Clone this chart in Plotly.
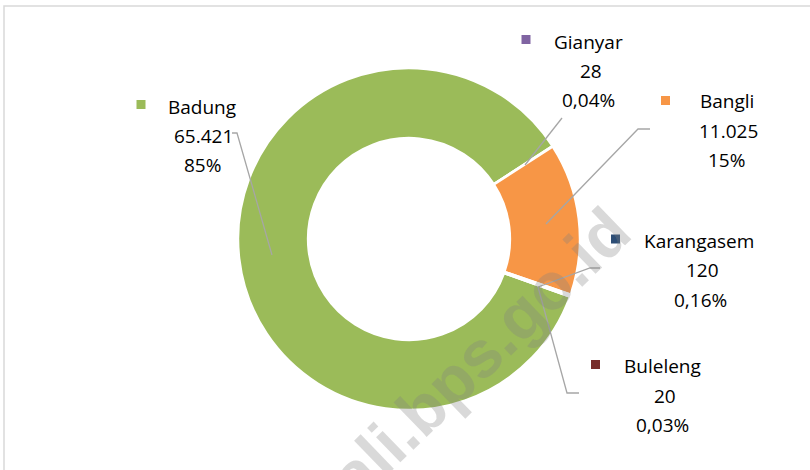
import plotly.graph_objects as go

# Data
regencies = ["Badung", "Gianyar", "Bangli", "Karangasem", "Buleleng"]
values = [65421, 28, 11025, 120, 20]
value_labels = ["65.421", "28", "11.025", "120", "20"]
pct_labels = ["85%", "0,04%", "15%", "0,16%", "0,03%"]
colors = ["#9BBB59", "#8064A2", "#F79646", "#2C4D75", "#772C2A"]

W, H = 810, 470
cx, cy, R = 409, 239, 171

def px(x):
    return x / W

def py(y):
    return 1 - y / H

fig = go.Figure()
fig.add_trace(go.Pie(
    labels=regencies, values=values, sort=False, direction="clockwise",
    rotation=109.7, hole=0.59, textinfo="none", hoverinfo="label+value+percent",
    marker=dict(colors=colors, line=dict(color="white", width=2.5)),
    domain=dict(x=[px(cx - R), px(cx + R)], y=[py(cy + R), py(cy - R)]),
    showlegend=False,
))

# label layout (pixel positions of the three text lines and the key square)
label_pos = {
    "Badung": dict(x=[202, 203, 202], y=[107, 136, 165], key=(141, 104.5)),
    "Gianyar": dict(x=[588, 591, 588], y=[42, 71, 100], key=(526, 39.5)),
    "Bangli": dict(x=[727, 728, 726], y=[101, 131, 160], key=(665.5, 100.5)),
    "Karangasem": dict(x=[699, 702, 700], y=[241, 270, 300], key=(615.5, 239)),
    "Buleleng": dict(x=[662, 665, 662], y=[366, 396, 425], key=(595.5, 364.5)),
}
leaders = {
    "Badung": [(232, 133), (237, 133), (272, 255)],
    "Gianyar": [(562, 118), (525, 165)],
    "Bangli": [(650, 129), (638, 129), (546, 224)],
    "Karangasem": [(600, 268), (590, 268), (538, 287)],
    "Buleleng": [(538, 287), (567, 393), (579, 393)],
}

font = dict(family="Open Sans", size=19, color="#000000")
shapes = []
annotations = []
for i, name in enumerate(regencies):
    p = label_pos[name]
    texts = [name, value_labels[i], pct_labels[i]]
    for t, xx, yy in zip(texts, p["x"], p["y"]):
        annotations.append(dict(text=t, x=px(xx), y=py(yy), xref="paper", yref="paper",
                                xanchor="center", yanchor="middle", showarrow=False, font=font))
    kx, ky = p["key"]
    shapes.append(dict(type="rect", xref="paper", yref="paper",
                       x0=px(kx - 4.5), x1=px(kx + 4.5), y0=py(ky + 4.5), y1=py(ky - 4.5),
                       fillcolor=colors[i], line=dict(width=0)))
    pts = leaders[name]
    path = "M " + " L ".join(f"{px(a)},{py(b)}" for a, b in pts)
    shapes.append(dict(type="path", xref="paper", yref="paper", path=path,
                       line=dict(color="#A6A6A6", width=1.3)))

# chart frame
shapes.append(dict(type="rect", xref="paper", yref="paper", x0=px(4), y0=py(480), x1=px(830), y1=py(6),
                   line=dict(color="#D9D9D9", width=1.5), fillcolor="rgba(0,0,0,0)", layer="below"))

# watermark
annotations.append(dict(text="bali.bps.go.id", x=px(465), y=py(368), xref="paper", yref="paper",
                        xanchor="center", yanchor="middle", showarrow=False, textangle=-44,
                        font=dict(family="Liberation Sans", size=66, color="rgba(128,128,128,0.3)",
                                  weight="bold")))

fig.update_layout(
    width=W, height=H, margin=dict(l=0, r=0, t=0, b=0),
    paper_bgcolor="white", plot_bgcolor="white",
    shapes=shapes, annotations=annotations,
)
fig.write_html("out.html", config={"displayModeBar": False},
               post_script="document.body.style.margin='0';document.body.style.overflow='hidden';")
